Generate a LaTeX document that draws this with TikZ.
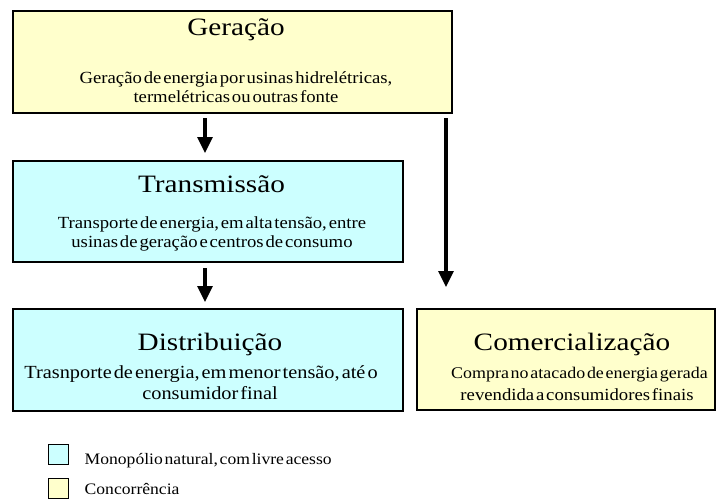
\documentclass[tikz,border=0pt]{standalone}
\usepackage{fontspec}
\setmainfont{Liberation Serif}
\newfontfamily\ttlfont[FakeStretch=1.17]{Liberation Serif}
\newfontfamily\txtfont[FakeStretch=1.1,WordSpace=0.4]{Liberation Serif}
\usetikzlibrary{arrows.meta,calc}
\definecolor{boxyellow}{HTML}{FFFFCC}
\definecolor{boxcyan}{HTML}{CCFFFF}
\begin{document}
\begin{tikzpicture}[x=1pt,y=-1pt,
 box/.style={draw=black,line width=1.4pt,inner sep=0pt,outer sep=0pt,rectangle},
 ybox/.style={box,fill=boxyellow},
 cbox/.style={box,fill=boxcyan},
 ttl/.style={anchor=base,inner sep=0pt,font=\ttlfont\fontsize{25}{30}\selectfont},
 txt/.style={anchor=base,inner sep=0pt,font=\txtfont\fontsize{17}{20}\selectfont},
 leg/.style={anchor=base west,inner sep=0pt,font=\txtfont\fontsize{16}{19}\selectfont},
 arr/.style={line width=3.3pt,-{Triangle[width=15pt,length=16pt]}},
 key/.style={draw=black,line width=0.8pt,inner sep=0pt,outer sep=0pt,minimum size=20pt}
]
\clip (0,0) rectangle (716,499);
\fill[white] (0,0) rectangle (716,499);

% boxes
\node[ybox,minimum width=439pt,minimum height=102pt] (ger) at (232.5,62) {};
\node[cbox,minimum width=390pt,minimum height=101pt] (trans) at (208,211.5) {};
\node[cbox,minimum width=390pt,minimum height=102pt] (dist) at (208,360) {};
\node[ybox,minimum width=298pt,minimum height=101pt] (com) at (566,359.5) {};

% texts
\node[ttl] (gerT) at ($(ger.north)+(3.5,24)$) {Geração};
\node[txt] (gerA) at ($(ger.north)+(3.5,72)$) {Geração de energia por usinas hidrelétricas,};
\node[txt] (gerB) at ($(ger.north)+(3.5,91.5)$) {termelétricas ou outras fonte};

\node[ttl] (transT) at ($(trans.north)+(3.5,31)$) {Transmissão};
\node[txt] (transA) at ($(trans.north)+(4,67)$) {Transporte de energia, em alta tensão, entre};
\node[txt] (transB) at ($(trans.north)+(4,86)$) {usinas de geração e centros de consumo};

\node[ttl] (distT) at ($(dist.north)+(2,41)$) {Distribuição};
\node[txt,font=\txtfont\fontsize{18.5}{22}\selectfont] (distA) at ($(dist.north)+(-7,69)$) {Trasnporte de energia, em menor tensão, até o};
\node[txt,font=\txtfont\fontsize{18.5}{22}\selectfont] (distB) at ($(dist.north)+(2,90)$) {consumidor final};

\node[ttl] (comT) at ($(com.north)+(6,41)$) {Comercialização};
\node[txt,anchor=base west,font=\txtfont\fontsize{16.3}{20}\selectfont] (comA) at ($(com.north)+(-115,69)$) {Compra no atacado de energia gerada};
\node[txt] (comB) at ($(com.north)+(11,91)$) {revendida a consumidores finais};

% arrows
\draw[arr,shorten <=5pt,shorten >=8pt] ($(trans.north |- ger.south)+(-3,0)$) -- ($(trans.north)+(-3,0)$);
\draw[arr,shorten <=6pt,shorten >=7pt] ($(dist.north |- trans.south)+(-3,0)$) -- ($(dist.north)+(-3,0)$);
\draw[arr,shorten <=5pt,shorten >=22pt] ($(ger.south east)+(-6,0)$) -- ($(ger.south east |- com.north)+(-6,0)$);

% legend
\node[key,fill=boxcyan] (k1) at (58.5,454.5) {};
\node[leg] (l1) at ($(k1.south east)+(16,0)$) {Monopólio natural, com livre acesso};
\node[key,fill=boxyellow] (k2) at (58.5,488.5) {};
\node[leg] (l2) at ($(k2.south east)+(16,-4)$) {Concorrência};
\end{tikzpicture}
\end{document}
